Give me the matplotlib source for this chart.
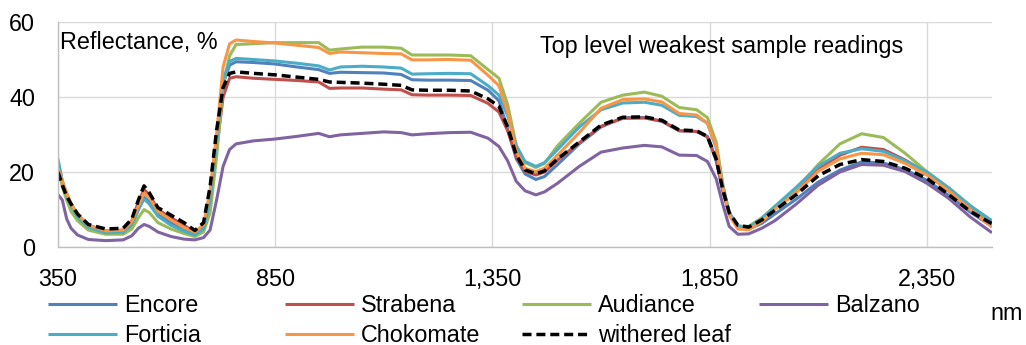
import matplotlib
matplotlib.use("Agg")
import matplotlib.pyplot as plt
from matplotlib.ticker import FuncFormatter

plt.rcParams['font.family'] = ['Liberation Sans', 'DejaVu Sans']

# wavelength grid, nm
wl = [350, 360, 370, 380, 395, 420, 460, 500, 520, 535, 548, 560, 580, 610, 640,
      665, 685, 700, 715, 730, 745, 760, 800, 850, 900, 950, 975, 1000, 1050, 1100,
      1140, 1165, 1200, 1250, 1300, 1340, 1365, 1385, 1405, 1425, 1450, 1470, 1500,
      1550, 1600, 1650, 1700, 1740, 1780, 1820, 1845, 1865, 1880, 1895, 1915, 1940,
      1970, 2000, 2050, 2100, 2150, 2200, 2250, 2300, 2350, 2400, 2450, 2500]

# reflectance, %
encore = [22.5, 17.5, 14, 11, 8, 5.3, 3.8, 3.9, 5.8, 10, 13.3, 12, 8.8, 6.5, 4.5,
          3.4, 4.8, 12, 28, 43.5, 48.5, 49.4, 49.2, 48.8, 48.0, 47.3, 46.3, 46.6, 46.5, 46.4,
          46.0, 44.6, 44.5, 44.5, 44.4, 41.8, 39, 31.5, 23.5, 19.5, 18.0, 18.8, 22.0,
          27.5, 32, 34.5, 34.5, 33.5, 31.0, 30.8, 29.5, 23, 15, 9, 5.3, 4.8,
          6.3, 8.8, 12.8, 17.3, 20.5, 22.7, 22.4, 20.6, 17.8, 13.8, 9.3, 5.5]
strabena = [21, 17, 14, 11.5, 8.5, 5.8, 4.3, 4.5, 7, 12, 15.3, 14, 10, 7.8, 5.8,
            4.0, 5.5, 12, 26, 40, 45, 45.4, 45.0, 44.7, 44.4, 44.0, 42.3, 42.4, 42.4, 42.1,
            41.9, 40.6, 40.5, 40.5, 40.4, 38.3, 36, 31, 24, 20.2, 19.2, 20, 23.2,
            27.8, 32.2, 34.3, 34.4, 33.6, 31, 30.8, 29.3, 23.5, 15.5, 9.0, 5.6, 5.0,
            6.8, 10.3, 15.3, 20.8, 24.5, 26.6, 26.0, 23.2, 19.8, 15, 10.5, 6.3]
audiance = [22.5, 16, 12.5, 9.5, 7, 4.5, 3.4, 3.4, 4.8, 7.8, 10, 9.2, 6.5, 4.8, 3.6,
            2.8, 4, 9, 24, 43, 51, 54, 54.2, 54.5, 54.5, 54.5, 52.5, 52.8, 53.3, 53.3,
            53.0, 51.2, 51.2, 51.2, 51.0, 47.3, 45, 38, 27, 22.5, 21.2, 22.3, 27,
            33, 38.6, 40.5, 41.3, 40.2, 37.2, 36.6, 34.5, 28, 17, 8.8, 5.5, 5.5,
            7.8, 10.8, 15.5, 22, 27.5, 30.2, 29.2, 25, 20.1, 15.8, 11, 6.5]
balzano = [14, 12.5, 7.5, 5, 3.2, 2.0, 1.7, 1.9, 3.0, 5, 6, 5.5, 4, 2.8, 2.1,
           1.9, 2.5, 4.5, 12.5, 21.5, 26, 27.5, 28.3, 28.8, 29.5, 30.3, 29.4, 29.9, 30.3, 30.7,
           30.5, 29.9, 30.2, 30.5, 30.6, 29, 26.8, 23, 17.5, 15, 13.9, 14.7, 17,
           21.5, 25.3, 26.4, 27.1, 26.7, 24.5, 24.4, 22.8, 18.2, 11.5, 5.5, 3.4, 3.5,
           5.0, 7.0, 11.5, 16.5, 20, 22, 21.8, 20.1, 17, 13, 8.0, 3.8]
forticia = [23.5, 17.5, 14, 11, 8, 5.2, 3.8, 3.9, 6, 10, 12.8, 11.5, 8.2, 5.8, 4.2,
            3.2, 4.8, 12, 28, 44.5, 49.5, 50.3, 50.0, 49.6, 49.0, 48.3, 47.2, 48.0, 48.2, 48.0,
            47.7, 46.1, 46.2, 46.3, 46.2, 43, 40.5, 35, 27, 22.8, 21.5, 22.5, 26,
            32, 36.6, 38.4, 38.6, 37.8, 35.1, 34.8, 33.0, 26.5, 16.5, 9.2, 5.6, 5.3,
            7.5, 10.8, 16, 21.5, 25, 26.2, 25.5, 23, 20, 15.8, 11, 7]
chokomate = [21, 17.5, 14.5, 11.5, 8.8, 5.8, 4.3, 4.5, 6.8, 11, 14.5, 13.2, 9.5, 7.2, 5.2,
             4.0, 6, 15, 30, 48, 54.2, 55.2, 54.8, 54.4, 53.8, 53.2, 51.6, 52.0, 51.8, 51.6,
             51.5, 49.9, 49.9, 50, 49.8, 45.8, 43, 36, 25.5, 21, 20.1, 21, 24.5,
             30.5, 37, 39.3, 39.5, 38.7, 35.6, 35.2, 33, 27, 16, 8.5, 4.8, 4.6,
             6.8, 10.0, 14.5, 20.2, 23.5, 25.0, 24.6, 22.3, 19.2, 15, 10, 5.3]
withered = [20, 16.5, 13.5, 11.5, 8.8, 6, 4.8, 5.0, 7.5, 12.5, 16.3, 14.5, 10.5, 8.5, 6.5,
            4.4, 6.5, 16, 31, 42.5, 46.3, 46.7, 46.3, 45.9, 45.3, 44.7, 44.0, 43.9, 43.7, 43.4,
            43.1, 41.9, 41.8, 41.8, 41.6, 39.5, 37.5, 32, 24.5, 20.6, 19.5, 20.3, 23.5,
            28, 32.5, 34.6, 34.7, 33.8, 31.2, 31.0, 29.5, 23.5, 15.5, 9.2, 5.8, 5.3,
            7.2, 9.8, 14, 19, 22, 23.3, 22.8, 21.0, 18.3, 14, 9.5, 6.2]

names = ['Encore', 'Strabena', 'Audiance', 'Balzano', 'Forticia', 'Chokomate']
series = [encore, strabena, audiance, balzano, forticia, chokomate]
colors = ['#4F81BD', '#C0504D', '#9BBB59', '#8064A2', '#4BACC6', '#F79646']

FS = 16.8

fig = plt.figure(figsize=(10.26, 3.45), dpi=100)
ax = fig.add_axes([58 / 1026, 1 - 247 / 345, (992 - 58) / 1026, (247 - 22) / 345])

lines = []
for name, vals, c in zip(names, series, colors):
    ln, = ax.plot(wl, vals, color=c, lw=2.2, label=name, solid_capstyle='butt')
    lines.append(ln)
ln, = ax.plot(wl, withered, color='black', lw=2.5, dashes=(2.6, 1.4), label='withered leaf')
lines.append(ln)

ax.set_xlim(350, 2500)
ax.set_ylim(0, 60)
ax.set_xticks([350, 850, 1350, 1850, 2350])
ax.set_yticks([0, 20, 40, 60])
ax.xaxis.set_major_formatter(FuncFormatter(lambda v, p: f'{int(v):,}'))
ax.grid(True, color='#d9d9d9', lw=1.0)
ax.set_axisbelow(True)
for s in ('top', 'right'):
    ax.spines[s].set_visible(False)
for s in ('left', 'bottom'):
    ax.spines[s].set_color('#bfbfbf')
    ax.spines[s].set_linewidth(1.0)
ax.tick_params(axis='y', length=0, pad=16.5, labelsize=FS)
ax.tick_params(axis='x', length=0, pad=15, labelsize=FS)

fig.text(60 / 1026, 1 - 49 / 345, 'Reflectance, %', fontsize=FS, va='baseline', ha='left')
fig.text(540 / 1026, 1 - 53 / 345, 'Top level weakest sample readings', fontsize=FS,
         va='baseline', ha='left')
fig.text(1007 / 1026, 1 - 313 / 345, 'nm', fontsize=FS, va='center', ha='center')

# legend: four columns, two rows, fixed column positions
col_x = [48, 285, 522, 759]
cols = [[lines[0], lines[4]], [lines[1], lines[5]], [lines[2], lines[6]], [lines[3]]]
for x, hs in zip(col_x, cols):
    fig.legend(handles=hs, labels=[h.get_label() for h in hs], loc='upper left',
               bbox_to_anchor=(x / 1026, 1 - 294 / 345), frameon=False, fontsize=FS,
               borderpad=0, borderaxespad=0, handlelength=2.95, handletextpad=0.3,
               labelspacing=0.3)

fig.savefig('out.png', dpi=100)
